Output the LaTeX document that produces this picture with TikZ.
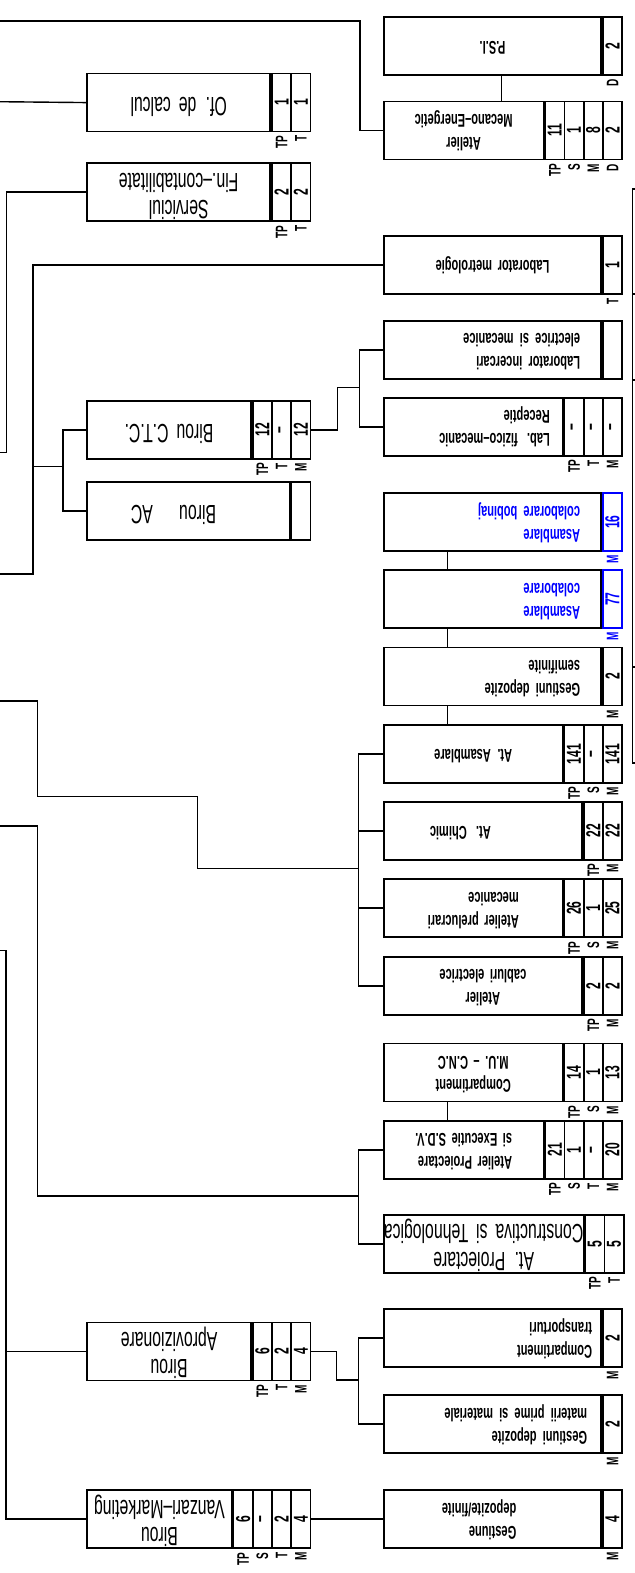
\documentclass[tikz,border=0pt]{standalone}
\usepackage{fontspec}
\usepackage{graphicx}
\usetikzlibrary{positioning,calc}
\newfontfamily\narrowfont{Liberation Sans}[FakeStretch=0.6,WordSpace=1.8]
\definecolor{planblue}{RGB}{0,0,255}
\newcommand{\pxu}{0.02cm}
\newcommand{\flip}[2][c]{\rotatebox{180}{\begin{tabular}{@{}#1@{}}#2\end{tabular}}}
\newcommand{\cellsfor}[3][black]{%
  \foreach \cv/\ct [count=\idx] in {#3}{%
    \node[cell, draw=#1, text=#1] (#2-\idx) at ([xshift={(\idx-1)*19.25*\pxu}]#2.north east) {\rotatebox{90}{\cv}};
    \node[tag, text=#1] (#2-t\idx) at ([yshift={-3*\pxu}]#2-\idx.south) {\rotatebox{90}{\ct}};
  }}

\begin{document}
\begin{tikzpicture}[
  x=0.02cm, y=-0.02cm,
  unit/.style={draw, line width=1pt, anchor=north west, minimum height=58*\pxu, inner sep=0pt,
    font=\narrowfont\bfseries\fontsize{10.5}{13}\selectfont},
  bigunit/.style={unit, font=\narrowfont\fontsize{15}{15.5}\selectfont},
  cell/.style={draw, line width=1pt, anchor=north west, minimum width=19.25*\pxu, minimum height=58*\pxu,
    inner sep=0pt, font=\narrowfont\bfseries\fontsize{11.5}{12}\selectfont},
  tag/.style={anchor=north, inner sep=0pt, font=\narrowfont\bfseries\fontsize{9.5}{10}\selectfont},
  flushr/.style 2 args={inner xsep={#2*\pxu}, text width={(#1-2*#2)*\pxu}, align=right},
  flushl/.style 2 args={inner xsep={#2*\pxu}, text width={(#1-2*#2)*\pxu}, align=left},
  link/.style={line width=0.8pt},
]
\useasboundingbox (0,0) rectangle (635,1573);

% right column
\node[unit, minimum width={217.25*\pxu}] (psi) at (383,16) {\flip{P.S.I.}};
\cellsfor{psi}{2/D}
\node[unit, minimum width={159.5*\pxu}] (mecano) at (383,100.7) {\flip{Atelier\\Mecano–Energetic}};
\cellsfor{mecano}{11/TP,1/S,8/M,2/D}
\node[unit, minimum width={217.25*\pxu}] (metrol) at (383,235) {\flip{Laborator metrologie}};
\cellsfor{metrol}{1/T}
\node[unit, flushr={217.25}{21}] (incerc) at (383,320) {\flip[l]{Laborator incercari\\electrice si mecanice}};
\node[cell] (incerc-1) at (incerc.north east) {};
\node[unit, flushr={178.75}{12.75}] (fizmec) at (383,397) {\flip[l]{Lab. fizico–mecanic\\Receptie}};
\cellsfor{fizmec}{–/TP,–/T,–/M}
\node[unit, text=planblue, flushr={217.25}{21}] (bobinaj) at (383,492.3) {\flip[l]{Asamblare\\colaborare bobinaj}};
\cellsfor[planblue]{bobinaj}{16/M}
\node[unit, text=planblue, flushr={217.25}{21}] (colab) at (383,569.3) {\flip[l]{Asamblare\\colaborare}};
\cellsfor[planblue]{colab}{77/M}
\node[unit, flushr={217.25}{21}] (semif) at (383,646.7) {\flip[l]{Gestiuni depozite\\semifinite}};
\cellsfor{semif}{2/M}
\node[unit, minimum width={178.75*\pxu}] (asamb) at (383,724) {\flip{At. Asamblare}};
\cellsfor{asamb}{141/TP,–/S,141/M}
\node[unit, flushl={198}{46}] (chimic) at (383,801) {\flip{At. Chimic}};
\cellsfor{chimic}{22/TP,22/M}
\node[unit, minimum width={178.75*\pxu}] (preluc) at (383,878.3) {\flip[l]{Atelier prelucrari\\mecanice}};
\cellsfor{preluc}{26/TP,1/S,25/M}
\node[unit, minimum width={198*\pxu}] (cabluri) at (383,956) {\flip{Atelier\\cabluri electrice}};
\cellsfor{cabluri}{2/TP,2/M}
\node[unit, minimum width={178.75*\pxu}] (cnc) at (383,1042.7) {\flip{Compartiment\\M.U. – C.N.C}};
\cellsfor{cnc}{14/TP,1/S,13/M}
\node[unit, minimum width={159.5*\pxu}] (sdv) at (383,1120) {\flip[l]{Atelier Proiectare\\si Executie S.D.V.}};
\cellsfor{sdv}{21/TP,1/S,–/T,20/M}
\node[bigunit, minimum width={198*\pxu}] (constr) at (383,1214) {\flip{At. Proiectare\\Constructiva si Tehnologica}};
\cellsfor{constr}{5/TP,5/T}
\node[unit, flushr={217.25}{9}] (transp) at (383,1308.3) {\flip[l]{Compartiment\\transporturi}};
\cellsfor{transp}{2/M}
\node[unit, flushr={217.25}{14}] (matprim) at (383,1394.3) {\flip[l]{Gestiuni depozite\\materii prime si materiale}};
\cellsfor{matprim}{2/M}
\node[unit, flushl={217.25}{58}] (finite) at (383,1489.3) {\flip[l]{Gestiune\\depozite/finite}};
\cellsfor{finite}{4/M}

% left column
\node[bigunit, minimum width={183*\pxu}] (calcul) at (86.3,72.7) {\flip{Of. de calcul}};
\cellsfor{calcul}{1/TP,1/T}
\node[bigunit, minimum width={183*\pxu}] (fincont) at (86.3,162.3) {\flip{Serviciul\\Fin.–contabilitate}};
\cellsfor{fincont}{2/TP,2/T}
\node[bigunit, minimum width={163.75*\pxu}] (ctc) at (86.3,400) {\flip{Birou C.T.C.}};
\cellsfor{ctc}{12/TP,–/T,12/M}
\node[bigunit, flushl={202.25}{43.7}] (ac) at (86.3,481) {\flip{Birou\quad AC}};
\node[cell] (ac-1) at (ac.north east) {};
\node[bigunit, minimum width={163.75*\pxu}] (aprov) at (86.3,1321.7) {\flip{Birou\\Aprovizionare}};
\cellsfor{aprov}{6/TP,2/T,4/M}
\node[bigunit, minimum width={144.5*\pxu}] (vanz) at (86.3,1489.3) {\flip{Birou\\Vanzari–Marketing}};
\cellsfor{vanz}{6/TP,–/S,2/T,4/M}

% links to the rest of the chart
\coordinate (r1) at (0,21);
\coordinate (r2) at (0,101.7);
\coordinate (r3) at (0,452.3);
\coordinate (r4) at (0,574);
\coordinate (r6) at (0,701);
\coordinate (r7) at (0,826);
\coordinate (r8) at (0,950.7);
\coordinate (j4) at (33,466.7);
\coordinate (j5) at (359.7,387.7);
\coordinate (j6) at (358.4,868.7);
\coordinate (j7) at (358.4,1196);
\coordinate (j9) at (358.4,1380);

\draw[link] (r1) -| ([xshift={-23*\pxu}]mecano.west) -- (mecano.west);
\draw[link] ([xshift={118.4*\pxu}]psi.south west) -- ([xshift={118.4*\pxu}]mecano.north west);
\draw[link] (r2) -- (calcul.west);
\draw[link] (fincont.west) -- ++(-79.8,0) |- (r3);
\draw[link] (r4) -- ++(33,0) |- (metrol.west);
\draw[link] (j4) -- ++(29.8,0) coordinate (k4);
\draw[link] (ctc.west) -| (k4) |- (ac.west);
\draw[link] (ctc-3.east) -- ++(26,0) |- (j5);
\draw[link] (incerc.west) -| (j5) |- (fizmec.west);

\draw[link] ([xshift={64.5*\pxu}]bobinaj.south west) -- ([xshift={64.5*\pxu}]colab.north west);
\draw[link] ([xshift={64.5*\pxu}]colab.south west) -- ([xshift={64.5*\pxu}]semif.north west);
\draw[link] ([xshift={64.5*\pxu}]semif.south west) -- ([xshift={64.5*\pxu}]asamb.north west);
\draw[link] ([xshift={64.5*\pxu}]cnc.south west) -- ([xshift={64.5*\pxu}]sdv.north west);

\draw[link] (r6) -| (37.3,796.7) -| (197.6,868.7) -- (j6);
\draw[link] (asamb.west) -- ++(-24.6,0) |- (cabluri.west);
\draw[link] (chimic.west) -- ++(-24.6,0);
\draw[link] (preluc.west) -- ++(-24.6,0);

\draw[link] (r7) -| (37.3,1196) -- (j7);
\draw[link] (sdv.west) -- ++(-24.6,0) |- (constr.west);

\draw[link] (r8) -- ++(6,0) |- (vanz.west);
\draw[link] (aprov.west) -- ++(-80.3,0);
\draw[link] (aprov-3.east) -- ++(25.2,0) |- (j9);
\draw[link] (transp.west) -| (j9) |- (matprim.west);
\draw[link] (vanz-4.east) -- (finite.west);

% edge of the next block
\draw[line width=1pt] (635,189) -- (632.5,189) -- (632.5,763) -- (635,763);
\draw[line width=1pt] (632.5,294) -- (635,294);
\draw[line width=1pt] (632.5,380) -- (635,380);
\draw[line width=1pt] (632.5,667) -- (635,667);
\end{tikzpicture}
\end{document}
